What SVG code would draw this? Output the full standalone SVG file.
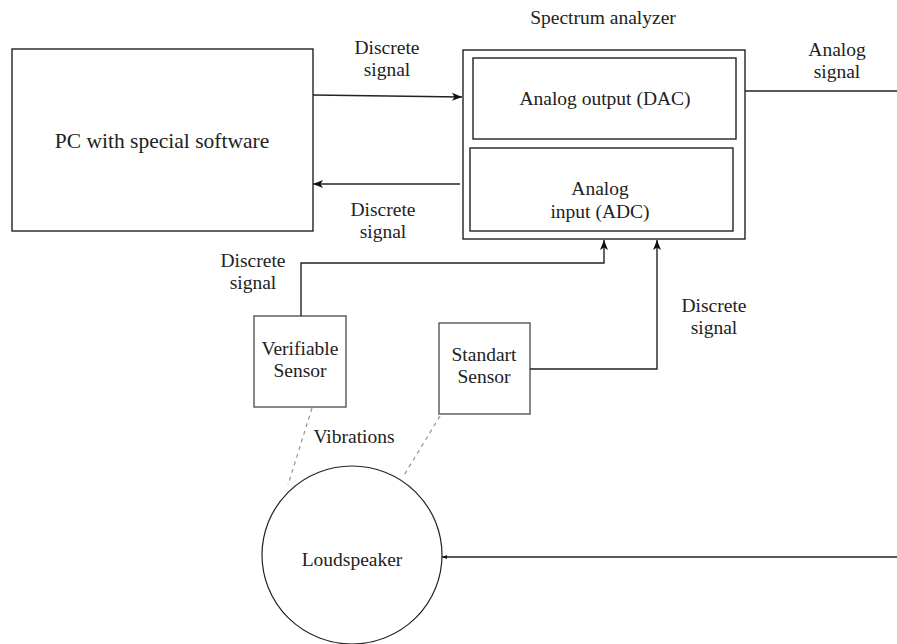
<svg xmlns="http://www.w3.org/2000/svg" width="897" height="644" viewBox="0 0 897 644">
<style>
.box{fill:#fff;stroke:#222;stroke-width:1.4}
.sbox{fill:#fff;stroke:#555;stroke-width:1.4}
text{font-family:'Liberation Serif','Times New Roman',Tinos,'DejaVu Serif','Noto Serif',serif;font-size:19.5px;fill:#222;text-anchor:middle}
.big{font-size:21.5px}
.ln{fill:none;stroke:#222;stroke-width:1.4}
.dash{fill:none;stroke:#a09088;stroke-width:1.2;stroke-dasharray:4 4}
</style>
<defs>
<marker id="arr" viewBox="0 0 10 10" refX="10" refY="5" markerWidth="10" markerHeight="10" markerUnits="userSpaceOnUse" orient="auto">
<path d="M0,1 L10,5 L0,9 L2.5,5 Z" fill="#111"/>
</marker>
<marker id="arrs" viewBox="0 0 10 10" refX="10" refY="5" markerWidth="5" markerHeight="6" markerUnits="userSpaceOnUse" orient="auto">
<path d="M0,1 L10,5 L0,9 Z" fill="#111"/>
</marker>
</defs>
<rect width="897" height="644" fill="#fff"/>

<g id="pc">
<rect class="box" x="12" y="49" width="301" height="182"/>
<text class="big" x="162" y="148">PC with special software</text>
</g>

<g id="spectrum-analyzer">
<text x="603" y="24">Spectrum analyzer</text>
<rect class="box" x="463" y="50" width="282" height="189"/>
</g>

<g id="dac">
<rect class="box" x="473" y="58" width="263" height="81"/>
<text x="605" y="105">Analog output (DAC)</text>
</g>

<g id="adc">
<rect class="box" x="470" y="148" width="263" height="83"/>
<text x="600" y="195">Analog</text>
<text x="600" y="218">input (ADC)</text>
</g>

<g id="verifiable-sensor">
<rect class="sbox" x="254" y="316" width="92" height="91"/>
<text x="300" y="355">Verifiable</text>
<text x="300" y="377">Sensor</text>
</g>

<g id="standart-sensor">
<rect class="sbox" x="439" y="323" width="91" height="91"/>
<text x="484" y="361">Standart</text>
<text x="484" y="383">Sensor</text>
</g>

<g id="loudspeaker">
<ellipse cx="352" cy="555" rx="90" ry="89" fill="#fff" stroke="#222" stroke-width="1.2"/>
<text x="352" y="566">Loudspeaker</text>
</g>

<g id="connectors">
<path class="ln" d="M313,95 L462,97" marker-end="url(#arr)"/>
<path class="ln" d="M460,184 L313,184" marker-end="url(#arr)"/>
<path class="ln" d="M301,316 L301,263 L604,263 L604,240" marker-end="url(#arr)"/>
<path class="ln" d="M530,369 L657,369 L657,240" marker-end="url(#arr)"/>
<path class="ln" d="M745,91 L897,91"/>
<path class="ln" d="M897,557 L442,557" marker-end="url(#arrs)"/>
<path class="dash" d="M312,408 L288,485"/>
<path class="dash" d="M440,416 L403,477"/>
<text x="387" y="54">Discrete</text>
<text x="387" y="76">signal</text>
<text x="383" y="216">Discrete</text>
<text x="383" y="238">signal</text>
<text x="837" y="56">Analog</text>
<text x="837" y="78">signal</text>
<text x="253" y="267">Discrete</text>
<text x="253" y="289">signal</text>
<text x="714" y="312">Discrete</text>
<text x="714" y="334">signal</text>
<text x="354" y="443">Vibrations</text>
</g>
</svg>
